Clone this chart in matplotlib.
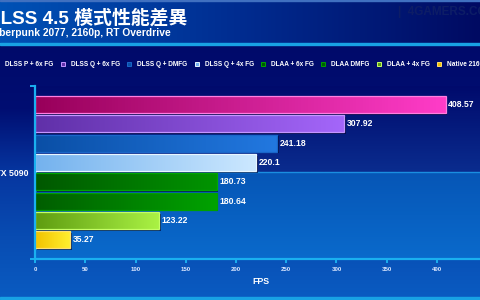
import numpy as np
import matplotlib.pyplot as plt
from matplotlib.colors import LinearSegmentedColormap
from matplotlib.lines import Line2D
from matplotlib.patches import Rectangle
import matplotlib.patheffects as pe

TITLE = "DLSS 4.5 模式性能差異"
SUBTITLE = "Cyberpunk 2077, 2160p, RT Overdrive"
GPU = "RTX 5090"
MODES = ["DLSS P + 6x FG", "DLSS Q + 6x FG", "DLSS Q + DMFG", "DLSS Q + 4x FG",
         "DLAA + 6x FG", "DLAA DMFG", "DLAA + 4x FG", "Native 2160p"]
FPS = [408.57, 307.92, 241.18, 220.1, 180.73, 180.64, 123.22, 35.27]
X_TICKS = [0, 50, 100, 150, 200, 250, 300, 350, 400]

# left colour, right colour, border colour for every bar
BAR_LEFT = ["#98005a", "#6030a8", "#0a4fa6", "#74b2ee", "#005800", "#005e00", "#5e9c10", "#f2c200"]
BAR_RIGHT = ["#ff3cc8", "#a466fa", "#2278e0", "#cce8ff", "#009400", "#00a200", "#aaf244", "#fff030"]
BAR_EDGE = ["#ff7ee0", "#c496ff", "#1a66c8", "#e8f6ff", "#00a800", "#00a000", "#c4ff66", "#ffe070"]

CYAN = "#1ab0f0"
W, H = 480, 300

plt.rcParams["font.family"] = ["Liberation Sans", "Noto Sans CJK TC", "DejaVu Sans"]
plt.rcParams["font.weight"] = "bold"

fig = plt.figure(figsize=(W / 100, H / 100), dpi=100)

# ---- figure background in pixel coordinates
bg = fig.add_axes([0, 0, 1, 1], zorder=-10)
bg.set_xlim(0, W)
bg.set_ylim(H, 0)
bg.axis("off")

body = LinearSegmentedColormap.from_list("body", ["#000a6a", "#000e72", "#0636a0", "#084cb2", "#0a5cc2"])
bg.imshow(np.linspace(0, 1, 256).reshape(-1, 1), cmap=body, aspect="auto",
          extent=(0, W, H, 45), zorder=0)
bar_cm = LinearSegmentedColormap.from_list("titlebar", ["#0052b6", "#002c90", "#000a62"])
bg.imshow(np.linspace(0, 1, 256).reshape(1, -1), cmap=bar_cm, aspect="auto",
          extent=(0, W, 43, 0), zorder=1)
bg.add_patch(Rectangle((0, 0), W, 1, color="#4070c0", zorder=2))
bg.add_patch(Rectangle((0, 42.5), W, 2.2, color="#18a2e4", zorder=2))
bg.add_patch(Rectangle((0, 297), W, 2, color="#18a2e4", zorder=2))

fig.text(-13 / W, 1 - 24 / H, TITLE, color="white", fontsize=13.6, fontweight="bold",
         va="baseline", ha="left")
fig.text(-14 / W, 1 - 36 / H, SUBTITLE, color="white", fontsize=7.4, fontweight="bold",
         va="baseline", ha="left")
fig.text(398 / W, 1 - 12 / H, "|  4GAMERS.COM", color="#0d1d66", fontsize=8.5,
         fontweight="bold", va="center", ha="left")

# ---- legend
handles = [Line2D([], [], marker="s", ls="none", markersize=3.0, markerfacecolor=c,
                  markeredgecolor=e, markeredgewidth=0.7, label=m)
           for m, c, e in zip(MODES, BAR_LEFT, BAR_EDGE)]
fig.legend(handles=handles, loc="center left", bbox_to_anchor=(-4.5 / W, 1 - 65 / H), ncol=8,
           frameon=False, borderpad=0, borderaxespad=0, handlelength=0.6, handletextpad=0.9,
           columnspacing=1.15, labelcolor="white",
           prop={"family": "Liberation Sans", "weight": "bold", "size": 4.7})

# ---- plot area
ax = fig.add_axes([35 / W, 41 / H, (W - 35) / W, 173 / H])
ax.patch.set_visible(False)
y = np.arange(len(FPS))
y_top, y_bot, y_mid = -0.96, 8.0, 3.5
x_max = (W - 35) / 1.005

top_cm = LinearSegmentedColormap.from_list("top", ["#000a6c", "#0a2c8e"])
bot_cm = LinearSegmentedColormap.from_list("bot", ["#0656b6", "#0a6acc"])
ax.imshow(np.linspace(0, 1, 64).reshape(-1, 1), cmap=top_cm, aspect="auto",
          extent=(0, x_max, y_mid, y_top), zorder=0)
ax.imshow(np.linspace(0, 1, 64).reshape(-1, 1), cmap=bot_cm, aspect="auto",
          extent=(0, x_max, y_bot, y_mid), zorder=0)
ax.axhline(y_mid, color="#1a8ee0", lw=1.0, zorder=0.5)

shadow = [pe.SimplePatchShadow(offset=(1.2, -1.2), shadow_rgbFace="#000028", alpha=0.6), pe.Normal()]
bars = ax.barh(y, FPS, height=0.88, color=BAR_LEFT, zorder=2)
for b, c0, c1 in zip(bars, BAR_LEFT, BAR_RIGHT):
    b.set_path_effects(shadow)
    cm = LinearSegmentedColormap.from_list("g", [c0, c1])
    x0, y0 = b.get_x(), b.get_y()
    im = ax.imshow(np.linspace(0, 1, 128).reshape(1, -1), cmap=cm, aspect="auto",
                   extent=(x0, x0 + b.get_width(), y0 + b.get_height(), y0), zorder=3)
    im.set_clip_path(b)
ax.barh(y, FPS, height=0.88, color="none", edgecolor=BAR_EDGE, linewidth=0.9, zorder=4)

for yi, v in zip(y, FPS):
    ax.text(v + 2.5, yi, f"{v:g}", color="white", fontsize=6.2, fontweight="bold",
            va="center", ha="left", zorder=5)

ax.set_xlim(0, x_max)
ax.set_ylim(y_bot, y_top)
for s in ["top", "right"]:
    ax.spines[s].set_visible(False)
for s in ["left", "bottom"]:
    ax.spines[s].set_color(CYAN)
    ax.spines[s].set_linewidth(1.6)
    ax.spines[s].set_zorder(6)

ax.set_xticks(X_TICKS)
ax.tick_params(axis="x", direction="out", length=3.0, width=1.4, color=CYAN, pad=2.5,
               labelsize=4.4, labelcolor="#dce8ff")
ax.set_yticks([y_top, y_bot])
ax.set_yticklabels([])
ax.tick_params(axis="y", which="major", direction="out", length=3.6, width=1.4, color=CYAN)
ax.set_yticks([y_mid], minor=True)
ax.set_yticklabels([GPU], minor=True)
ax.tick_params(axis="y", which="minor", length=0, pad=5, labelsize=6.3, labelcolor="white")

ax.set_xlabel("FPS", color="white", fontsize=6.3, fontweight="bold")
ax.xaxis.set_label_coords((261 - 35) / (W - 35), -23 / 173)
ax.xaxis.label.set_va("center")

fig.savefig("out.png", dpi=100)
